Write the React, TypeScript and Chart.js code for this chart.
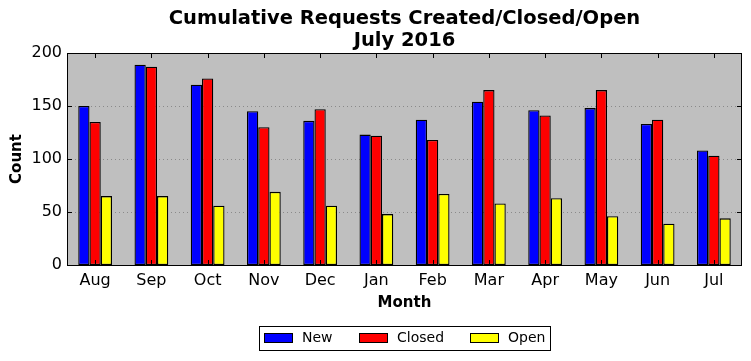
import React, { useEffect, useRef } from "react";
import { Chart, registerables } from "chart.js";

Chart.register(...registerables);

const months = ["Aug", "Sep", "Oct", "Nov", "Dec", "Jan", "Feb", "Mar", "Apr", "May", "Jun", "Jul"];
const newCounts = [150, 189, 170, 145, 136, 123, 137, 154, 146, 148, 133, 108];
const closedCounts = [135, 187, 176, 130, 147, 122, 118, 165, 141, 165, 137, 103];
const openCounts = [65, 65, 56, 69, 56, 48, 67, 58, 63, 46, 39, 44];
const yTicks = [0, 50, 100, 150, 200];
const titleLines = ["Cumulative Requests Created/Closed/Open", "July 2016"];

const FONT = "'DejaVu Sans', sans-serif";

const decorPlugin = {
  id: "decor",
  beforeDatasetsDraw(chart: any) {
    const { ctx, chartArea: a } = chart;
    ctx.save();
    ctx.fillStyle = "#bfbfbf";
    ctx.fillRect(a.left, a.top, a.right - a.left, a.bottom - a.top);
    const y = chart.scales.y;
    ctx.strokeStyle = "#8a8a8a";
    ctx.lineWidth = 1;
    ctx.setLineDash([1, 3]);
    for (const v of yTicks) {
      if (v === 0 || v === 200) continue;
      const py = Math.round(y.getPixelForValue(v)) + 0.5;
      ctx.beginPath();
      ctx.moveTo(a.left, py);
      ctx.lineTo(a.right, py);
      ctx.stroke();
    }
    ctx.restore();
  },
  afterDatasetsDraw(chart: any) {
    const { ctx, chartArea: a } = chart;
    const x = chart.scales.x;
    const y = chart.scales.y;
    ctx.save();
    ctx.strokeStyle = "#000";
    ctx.lineWidth = 1;
    ctx.setLineDash([]);
    for (let i = 0; i < months.length; i++) {
      const px = Math.round(x.getPixelForValue(i)) + 0.5;
      ctx.beginPath();
      ctx.moveTo(px, a.top);
      ctx.lineTo(px, a.top + 5);
      ctx.moveTo(px, a.bottom);
      ctx.lineTo(px, a.bottom - 5);
      ctx.stroke();
    }
    for (const v of yTicks) {
      const py = Math.round(y.getPixelForValue(v)) + 0.5;
      ctx.beginPath();
      ctx.moveTo(a.left, py);
      ctx.lineTo(a.left + 5, py);
      ctx.moveTo(a.right, py);
      ctx.lineTo(a.right - 5, py);
      ctx.stroke();
    }
    ctx.strokeRect(Math.round(a.left) + 0.5, Math.round(a.top) + 0.5, Math.round(a.right - a.left) - 1, Math.round(a.bottom - a.top));
    ctx.fillStyle = "#000";
    ctx.textAlign = "center";
    ctx.textBaseline = "middle";
    ctx.font = "bold 19.5px " + FONT;
    const cx = (a.left + a.right) / 2;
    ctx.fillText(titleLines[0], cx, 19);
    ctx.fillText(titleLines[1], cx, 41);
    ctx.font = "bold 15px " + FONT;
    ctx.fillText("Month", cx, 303);
    ctx.save();
    ctx.translate(17, (a.top + a.bottom) / 2);
    ctx.rotate(-Math.PI / 2);
    ctx.fillText("Count", 0, 0);
    ctx.restore();
    const lx = 259.5, ly = 326.5, lw = 291, lh = 24;
    ctx.strokeRect(lx, ly, lw, lh);
    ctx.font = "14px " + FONT;
    ctx.textAlign = "left";
    const positions = [264, 359, 470];
    chart.data.datasets.forEach((ds: any, i: number) => {
      const sx = positions[i];
      ctx.fillStyle = ds.backgroundColor;
      ctx.fillRect(sx, 333, 28, 9);
      ctx.strokeRect(sx + 0.5, 333.5, 28, 9);
      ctx.fillStyle = "#000";
      ctx.fillText(ds.label, sx + 38, 338.5);
    });
    ctx.restore();
  },
};

export default function App() {
  const ref = useRef<HTMLCanvasElement | null>(null);
  useEffect(() => {
    document.body.style.margin = "0";
    const chart = new Chart(ref.current!, {
      type: "bar",
      data: {
        labels: months,
        datasets: [
          { label: "New", data: newCounts, backgroundColor: "#0000ff", borderColor: "#000", borderWidth: 1.3, borderSkipped: false },
          { label: "Closed", data: closedCounts, backgroundColor: "#ff0000", borderColor: "#000", borderWidth: 1.3, borderSkipped: false },
          { label: "Open", data: openCounts, backgroundColor: "#ffff00", borderColor: "#000", borderWidth: 1.3, borderSkipped: false },
        ],
      },
      options: {
        animation: false,
        responsive: false,
        maintainAspectRatio: false,
        layout: { padding: { left: 0, top: 53, right: 9, bottom: 0 } },
        datasets: { bar: { categoryPercentage: 0.6, barPercentage: 1 } },
        plugins: { legend: { display: false }, title: { display: false }, tooltip: { enabled: false } },
        scales: {
          x: {
            grid: { display: false, drawTicks: false },
            border: { display: false },
            ticks: { color: "#000", font: { family: FONT, size: 16 }, padding: 6, maxRotation: 0 },
            afterFit(s: any) { s.height = 96; },
          },
          y: {
            min: 0,
            max: 200,
            grid: { display: false, drawTicks: false },
            border: { display: false },
            ticks: { color: "#000", font: { family: FONT, size: 16 }, padding: 5, stepSize: 50 },
            afterFit(s: any) { s.width = 67; },
          },
        },
      },
      plugins: [decorPlugin],
    });
    return () => chart.destroy();
  }, []);
  return (
    <div style={{ width: 751, height: 361, position: "relative" }}>
      <canvas ref={ref} width={751} height={361} style={{ display: "block", width: 751, height: 361 }} />
    </div>
  );
}
